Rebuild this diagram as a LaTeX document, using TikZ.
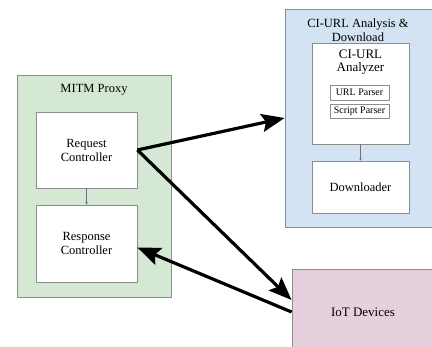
\documentclass[tikz,border=0pt]{standalone}
\usepackage{fontspec}
\setmainfont{Liberation Serif}
\usetikzlibrary{arrows.meta}
\definecolor{proxygreen}{HTML}{D5E8D4}
\definecolor{analysisblue}{HTML}{D3E3F4}
\definecolor{devicepink}{HTML}{E6D0DE}
\begin{document}
\begin{tikzpicture}[x=1pt,y=1pt,line join=round,
	group/.style={draw=gray!90,line width=0.8pt,inner sep=0pt},
	block/.style={draw=gray!90,fill=white,line width=0.8pt,inner sep=0pt,align=center,font=\fontsize{12.5}{14}\selectfont},
	parser/.style={draw=gray!90,fill=white,line width=0.6pt,inner sep=0pt,font=\fontsize{10}{11}\selectfont},
	bigarrow/.style={line width=3.2pt,-{Stealth[length=23pt,width=18pt,inset=4pt]}},
	smallarrow/.style={draw=gray!90!black,line width=0.5pt,-{Stealth[length=2.5pt,width=2.5pt]}}]
	\useasboundingbox (0,0) rectangle (432,347);
	\clip (0,0) rectangle (432,347);
	% containers
	\node[group,fill=proxygreen,minimum width=154,minimum height=222] (proxy) at (94,161) {};
	\node[group,fill=analysisblue,minimum width=160,minimum height=218] (analysis) at (365,229) {};
	\node[group,fill=devicepink,minimum width=142,minimum height=86,font=\fontsize{13}{15}\selectfont] (iot) at (363,35) {IoT Devices};
	\node[font=\fontsize{12.5}{14}\selectfont] (proxytitle) at (94,257) {MITM Proxy};
	\node[align=center,font=\fontsize{12.5}{13.5}\selectfont] (analysistitle) at (358,317) {CI-URL Analysis \&\\Download};
	% inner blocks
	\node[block,minimum width=101,minimum height=76] (request) at (86.5,197) {Request\\Controller};
	\node[block,minimum width=101,minimum height=77] (response) at (86.5,103.5) {Response\\Controller};
	\node[block,minimum width=97,minimum height=101] (analyzer) at (360.5,253.5) {};
	\node[font=\fontsize{13}{13.5}\selectfont,align=center] (analyzername) at (360.5,285) {CI-URL\\Analyzer};
	\node[parser,minimum width=59,minimum height=15] (urlparser) at (359.5,254.5) {URL Parser};
	\node[parser,minimum width=59,minimum height=14] (scriptparser) at (359.5,236) {Script Parser};
	\node[block,minimum width=97,minimum height=52] (downloader) at (360.5,160) {Downloader};
	% links
	\draw[smallarrow] (request) -- (response);
	\draw[smallarrow] (analyzer) -- (downloader);
	\draw[bigarrow] (request.east) -- (analysis.west);
	\draw[bigarrow] (request.east) -- ([yshift=12pt]iot.west);
	\draw[bigarrow] (iot.west) -- ([yshift=-4pt]response.east);
\end{tikzpicture}
\end{document}
